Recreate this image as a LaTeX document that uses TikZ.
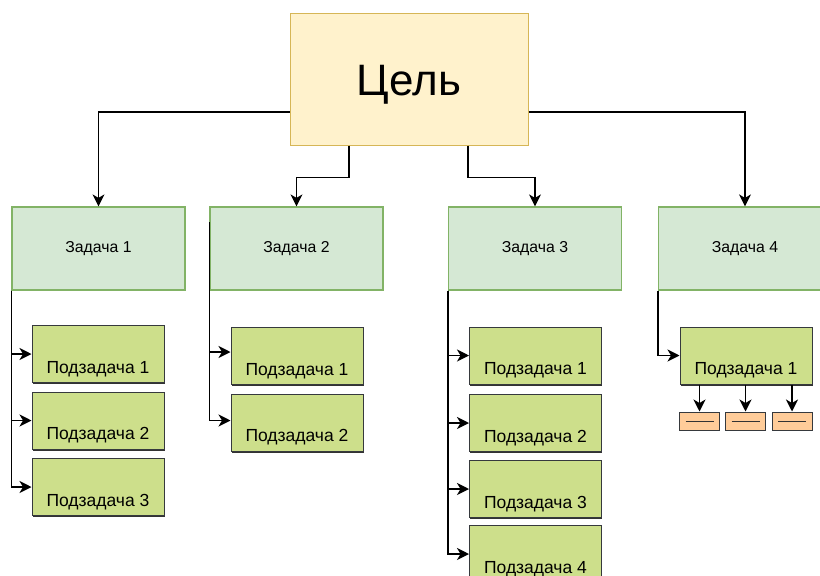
\documentclass[tikz,border=0pt]{standalone}
\usepackage{fontspec}
\setmainfont{Liberation Sans}
\usetikzlibrary{arrows.meta,shadows}
\definecolor{goalfill}{HTML}{FFF2CC}
\definecolor{goalline}{HTML}{D6B656}
\definecolor{taskfill}{HTML}{D5E8D4}
\definecolor{taskline}{HTML}{82B366}
\definecolor{subfill}{HTML}{CDDF8B}
\definecolor{subline}{HTML}{36393D}
\definecolor{orfill}{HTML}{FFCC99}
\tikzset{
  goalbox/.style={draw=goalline, fill=goalfill, line width=1pt, minimum width=238pt, minimum height=132pt, inner sep=0pt},
  taskbox/.style={draw=taskline, fill=taskfill, line width=1.2pt, minimum width=173pt, minimum height=83pt, inner sep=0pt, font=\fontsize{15.8}{17}\selectfont},
  subbox/.style={draw=subline, fill=subfill, line width=1pt, minimum width=132pt, minimum height=57pt, inner sep=0pt,
     drop shadow={shadow xshift=0.6pt, shadow yshift=-1.8pt, fill=black!80, opacity=1}},
  sublabel/.style={font=\fontsize{17.5}{19}\selectfont},
  orbox/.style={draw=subline, fill=orfill, line width=1pt, minimum width=40pt, minimum height=18pt, inner sep=0pt},
  conn/.style={draw=black, line width=1.4pt, -{Stealth[length=12pt,width=12pt,inset=3.5pt]}},
}
\begin{document}
\begin{tikzpicture}[x=1pt,y=-1pt]
\clip (0,0) rectangle (820,576);
\fill[white] (0,0) rectangle (820,576);
% goal
\node[goalbox] (goal) at (409,79) {};
\node[font=\fontsize{44}{48}\selectfont] (goaltext) at (409,85) {Цель};
% tasks
\node[taskbox] (t1) at (98.5,248.5) {Задача 1};
\node[taskbox] (t2) at (296.5,248.5) {Задача 2};
\node[taskbox] (t3) at (535,248.5) {Задача 3};
\node[taskbox] (t4) at (745,248.5) {Задача 4};
% subtasks of task 1
\node[subbox,label={[sublabel,yshift=-15pt]center:Подзадача 1}] (s11) at (98,354) {};
\node[subbox,label={[sublabel,yshift=-15pt]center:Подзадача 2}] (s12) at (98,420.5) {};
\node[subbox,label={[sublabel,yshift=-15pt]center:Подзадача 3}] (s13) at (98,487) {};
% subtasks of task 2
\node[subbox,label={[sublabel,yshift=-15pt]center:Подзадача 1}] (s21) at (297,356) {};
\node[subbox,label={[sublabel,yshift=-15pt]center:Подзадача 2}] (s22) at (297,422.5) {};
% subtasks of task 3
\node[subbox,label={[sublabel,yshift=-15pt]center:Подзадача 1}] (s31) at (535.5,355.5) {};
\node[subbox,label={[sublabel,yshift=-15pt]center:Подзадача 2}] (s32) at (535.5,423) {};
\node[subbox,label={[sublabel,yshift=-15pt]center:Подзадача 3}] (s33) at (535.5,489) {};
\node[subbox,label={[sublabel,yshift=-15pt]center:Подзадача 4}] (s34) at (535.5,554) {};
% subtask of task 4
\node[subbox,label={[sublabel,yshift=-15pt]center:Подзадача 1}] (s41) at (746,355.5) {};
% small orange boxes
\node[orbox] (o1) at (699.5,421) {};
\node[orbox] (o2) at (745.5,421) {};
\node[orbox] (o3) at (792,421) {};
\foreach \o in {o1,o2,o3}{
  \draw[black!80, line width=0.9pt] ([xshift=-14pt]\o.center) -- ([xshift=14pt]\o.center);
}
% goal to tasks
\draw[conn] ([yshift=-33pt]goal.west) -| (t1.north);
\draw[conn] ([yshift=-33pt]goal.east) -| (t4.north);
\draw[conn] ([xshift=-60pt]goal.south) -- ++(0,32) -| (t2.north);
\draw[conn] ([xshift=59pt]goal.south) -- ++(0,32) -| (t3.north);
% task 1
\draw[conn] (t1.south west) |- (s11.west);
\draw[conn] (t1.south west) |- (s12.west);
\draw[conn] (t1.south west) |- (s13.west);
% task 2
\draw[conn] ([yshift=-16pt]t2.north west) |- ([yshift=4pt]s21.west);
\draw[conn] ([yshift=-16pt]t2.north west) |- ([yshift=2pt]s22.west);
% task 3
\draw[conn] (t3.south west) |- (s31.west);
\draw[conn] (t3.south west) |- (s32.west);
\draw[conn] (t3.south west) |- (s33.west);
\draw[conn] (t3.south west) |- (s34.west);
% task 4
\draw[conn] (t4.south west) |- (s41.west);
\draw[conn] (o1.north |- s41.south) -- (o1.north);
\draw[conn] (o2.north |- s41.south) -- (o2.north);
\draw[conn] (o3.north |- s41.south) -- (o3.north);
\end{tikzpicture}
\end{document}
